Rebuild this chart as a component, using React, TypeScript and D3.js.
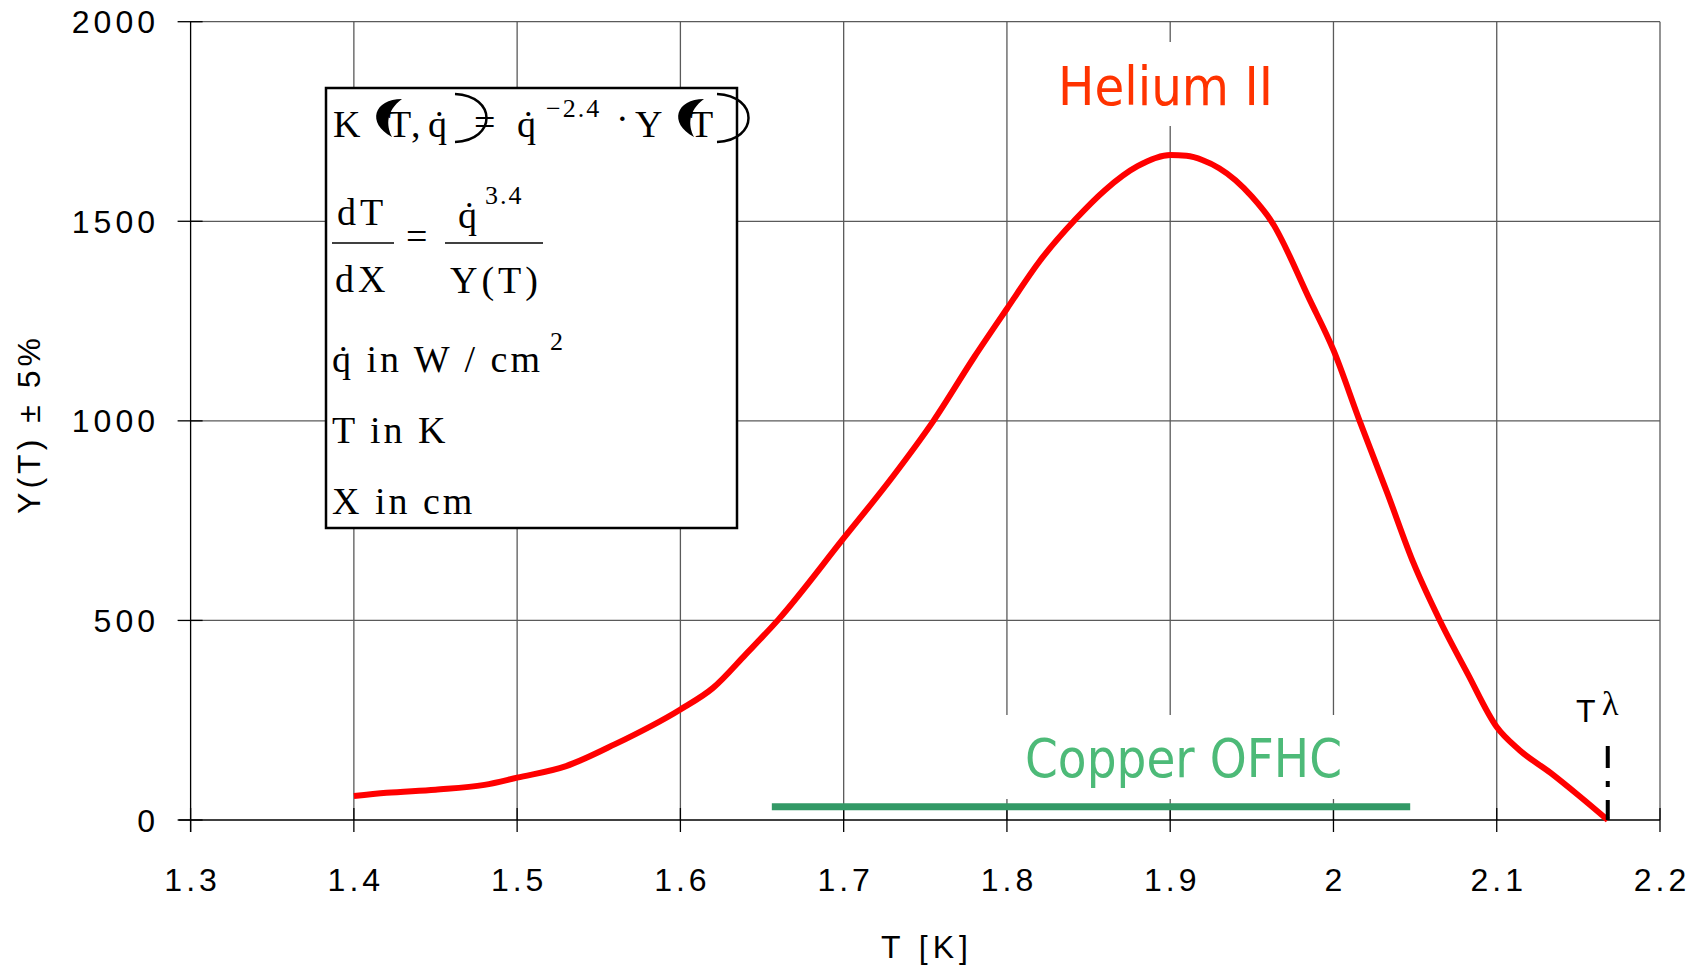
import React from "react";
import * as d3 from "d3";

// Helium II heat-transfer function Y(T)
const temps = [1.40, 1.42, 1.45, 1.48, 1.50, 1.53, 1.56, 1.60, 1.62, 1.64, 1.66, 1.70, 1.73, 1.755, 1.78, 1.80, 1.82, 1.842, 1.86, 1.88, 1.90, 1.91, 1.92, 1.93, 1.94, 1.95, 1.962, 1.9855, 2.00, 2.016, 2.033, 2.049, 2.065, 2.082, 2.10, 2.114, 2.133, 2.15, 2.168];
const heliumY = [60, 68, 76, 88, 106, 135, 190, 277, 331, 415, 502, 706, 860, 1000, 1160, 1281, 1400, 1505, 1578, 1638, 1666, 1664, 1653, 1633, 1603, 1562, 1500, 1303, 1177, 1000, 819, 644, 501, 368, 233, 175, 118, 62, 0];

// Copper OFHC band
const copperRange = [1.656, 2.047];
const copperY = 33;

// lambda point
const lambdaT = 2.168;

const xTicks = [1.3, 1.4, 1.5, 1.6, 1.7, 1.8, 1.9, 2.0, 2.1, 2.2];
const xTickLabels = ["1.3", "1.4", "1.5", "1.6", "1.7", "1.8", "1.9", "2", "2.1", "2.2"];
const yTicks = [0, 500, 1000, 1500, 2000];
const yTickLabels = ["0", "500", "1000", "1500", "2000"];

const W = 1698;
const H = 968;
const left = 190.6;
const right = 1660;
const top = 21.7;
const bottom = 820;

const arial = "'Liberation Sans', Arial, sans-serif";
const times = "'Liberation Serif', 'Times New Roman', serif";
const tahoma = "'DejaVu Sans', Verdana, sans-serif";

// black crescent left by the broken bracket glyph
function blob(l: number) {
  const t = 99, b = 137;
  return `M${l + 30},${t} C${l + 2},${t} ${l - 6},${b - 14} ${l + 20},${b} C${l + 14},${b - 12} ${l + 14},${t + 12} ${l + 30},${t} Z`;
}
function arc(x0: number) {
  return `M${x0},94 C${x0 + 42},96 ${x0 + 42},140 ${x0},142`;
}

export default function App() {
  const x = d3.scaleLinear().domain([1.3, 2.2]).range([left, right]);
  const y = d3.scaleLinear().domain([0, 2000]).range([bottom, top]);

  const line = d3
    .line<number>()
    .x((d, i) => x(temps[i]))
    .y((d) => y(d))
    .curve(d3.curveMonotoneX);

  return (
    <svg width={W} height={H} style={{ position: "absolute", left: 0, top: 0, background: "#fff" }}>
      <rect width={W} height={H} fill="#fff" />

      {/* grid */}
      {xTicks.slice(1).map((t) => (
        <line key={"gx" + t} x1={x(t)} x2={x(t)} y1={top} y2={bottom} stroke="#5a5a5a" strokeWidth={1.3} />
      ))}
      {yTicks.slice(1).map((v) => (
        <line key={"gy" + v} x1={left} x2={right} y1={y(v)} y2={y(v)} stroke="#5a5a5a" strokeWidth={1.3} />
      ))}

      {/* label backgrounds */}
      <rect x={1040} y={42} width={250} height={84} fill="#fff" />
      <rect x={1000} y={715} width={350} height={84} fill="#fff" />

      {/* axes */}
      <line x1={left} x2={left} y1={top} y2={bottom + 12} stroke="#000" strokeWidth={1.3} />
      <line x1={left - 12} x2={right} y1={bottom} y2={bottom} stroke="#000" strokeWidth={1.3} />
      {yTicks.map((v) => (
        <line key={"ty" + v} x1={left - 13} x2={left + 12} y1={y(v)} y2={y(v)} stroke="#000" strokeWidth={1.3} />
      ))}
      {xTicks.map((t) => (
        <line key={"tx" + t} x1={x(t)} x2={x(t)} y1={bottom - 12} y2={bottom + 12} stroke="#000" strokeWidth={1.3} />
      ))}

      {/* tick labels */}
      {yTicks.map((v, i) => (
        <text key={"ly" + v} x={159} y={y(v) + 11.5} textAnchor="end" fontFamily={arial} fontSize={32} letterSpacing={4} fill="#000">
          {yTickLabels[i]}
        </text>
      ))}
      {xTicks.map((t, i) => (
        <text key={"lx" + t} x={x(t) + 2} y={891} textAnchor="middle" fontFamily={arial} fontSize={32} letterSpacing={4} fill="#000">
          {xTickLabels[i]}
        </text>
      ))}

      {/* axis titles */}
      <text x={927} y={958} textAnchor="middle" fontFamily={arial} fontSize={32} letterSpacing={5}>
        T [K]
      </text>
      <text transform="translate(40,424) rotate(-90)" textAnchor="middle" fontFamily={arial} fontSize={32} letterSpacing={4}>
        Y(T) ± 5%
      </text>

      {/* Helium II curve */}
      <path d={line(heliumY) ?? ""} fill="none" stroke="#ff0000" strokeWidth={6} strokeLinejoin="round" />

      {/* Copper OFHC band */}
      <line x1={x(copperRange[0])} x2={x(copperRange[1])} y1={y(copperY)} y2={y(copperY)} stroke="#339966" strokeWidth={7} />

      {/* lambda marker */}
      <line x1={x(lambdaT)} x2={x(lambdaT)} y1={746} y2={bottom} stroke="#000" strokeWidth={4} strokeDasharray="22 13 6 13" />
      <text x={1576} y={722} fontFamily={arial} fontSize={32}>T</text>
      <text x={1602} y={715} fontFamily={times} fontSize={34}>λ</text>

      {/* series labels */}
      <text x={1058} y={105} fontFamily={tahoma} fontSize={53} fill="#ff3300" textLength={215} lengthAdjust="spacingAndGlyphs">
        Helium II
      </text>
      <text x={1025} y={777} fontFamily={tahoma} fontSize={53} fill="#4dba78" textLength={317} lengthAdjust="spacingAndGlyphs">
        Copper OFHC
      </text>

      {/* formula box */}
      <rect x={326} y={88} width={411} height={440} fill="#fff" stroke="#000" strokeWidth={2.5} />
      <g fontFamily={times} fontSize={38} fill="#000">
        <text x={333} y={137}>K</text>
        <text x={388} y={137}>T</text>
        <path d={blob(372)} fill="#000" />
        <text x={411} y={137}>,</text>
        <text x={428} y={137}>q̇</text>
        <path d={arc(455)} fill="none" stroke="#000" strokeWidth={2.5} />
        <text x={474} y={135}>=</text>
        <text x={517} y={137}>q̇</text>
        <text x={546} y={117} fontSize={26} letterSpacing={2}>−2.4</text>
        <text x={616} y={131}>·</text>
        <text x={635} y={137}>Y</text>
        <text x={690} y={137}>T</text>
        <path d={blob(674)} fill="#000" />
        <path d={arc(717)} fill="none" stroke="#000" strokeWidth={2.5} />

        <text x={337} y={225} letterSpacing={4}>dT</text>
        <line x1={332} x2={394} y1={243} y2={243} stroke="#000" strokeWidth={1.5} />
        <text x={335} y={292} letterSpacing={4}>dX</text>
        <text x={406} y={249}>=</text>
        <text x={458} y={228}>q̇</text>
        <text x={485} y={204} fontSize={26} letterSpacing={2}>3.4</text>
        <line x1={445} x2={543} y1={243} y2={243} stroke="#000" strokeWidth={1.5} />
        <text x={450} y={293} letterSpacing={4}>Y(T)</text>

        <text x={332} y={372} letterSpacing={3}>q̇ in W / cm</text>
        <text x={550} y={350} fontSize={26}>2</text>
        <text x={332} y={443} letterSpacing={3}>T in K</text>
        <text x={332} y={514} letterSpacing={3}>X in cm</text>
      </g>
    </svg>
  );
}
